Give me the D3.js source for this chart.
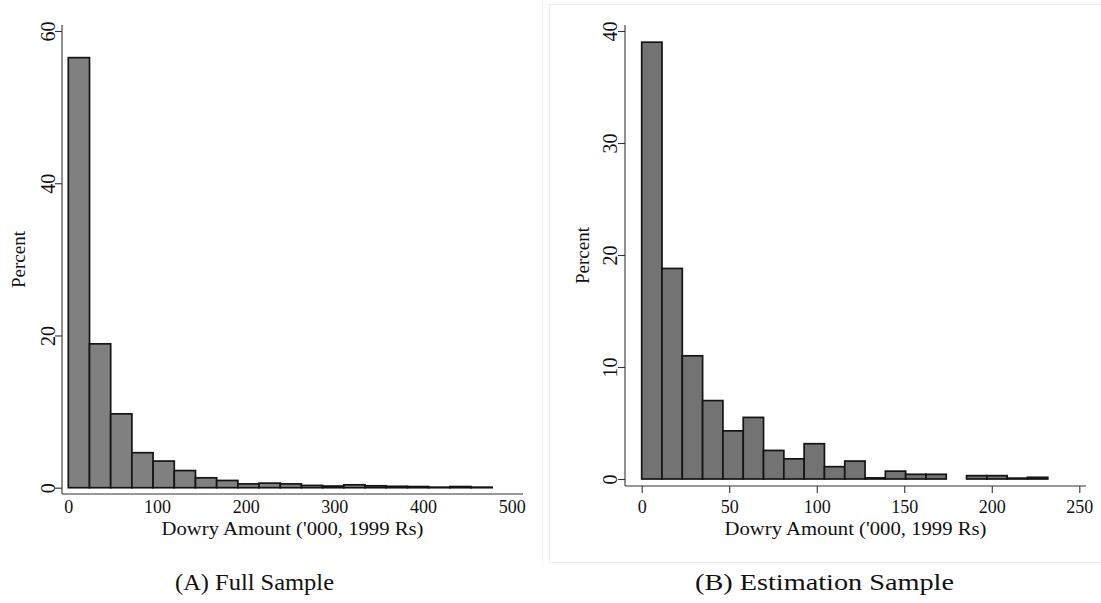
<!DOCTYPE html>
<html>
<head>
<meta charset="utf-8">
<script src="https://cdn.jsdelivr.net/npm/d3@7"></script>
<style>
  html, body { margin: 0; padding: 0; background: #fff; }
  svg { display: block; }
  text { font-family: "Liberation Serif", "DejaVu Serif", serif; fill: #111; }
</style>
</head>
<body>
<svg id="chart" width="1101" height="603"></svg>
<script>
// Histogram of dowry amounts ('000, 1999 Rs), percent of marriages per bin.
// Full sample: 20 equal bins starting at 0.
const fullBinWidth = 23.9;
const fullPercent = [56.5, 18.9, 9.7, 4.6, 3.5, 2.25, 1.3, 0.95, 0.5, 0.6,
                     0.5, 0.3, 0.22, 0.38, 0.25, 0.18, 0.15, 0.07, 0.15, 0.07];
const fullXTicks = [0, 100, 200, 300, 400, 500];
const fullYTicks = [0, 20, 40, 60];

// Estimation sample: 20 equal bins starting at 0.
const estBinWidth = 11.6;
const estPercent = [39.0, 18.8, 11.0, 7.0, 4.3, 5.5, 2.55, 1.8, 3.15, 1.1,
                    1.6, 0.1, 0.7, 0.42, 0.42, 0, 0.3, 0.3, 0.08, 0.15];
const estXTicks = [0, 50, 100, 150, 200, 250];
const estYTicks = [0, 10, 20, 30, 40];

const captions = ["(A) Full Sample", "(B) Estimation Sample"];
const xTitle = "Dowry Amount ('000, 1999 Rs)";
const yTitle = "Percent";

const svg = d3.select("#chart");

// faint frame around the second panel
svg.append("line").attr("x1", 542.5).attr("x2", 542.5).attr("y1", 0).attr("y2", 563)
  .attr("stroke", "#f6f6f6").attr("stroke-width", 1);
svg.append("rect").attr("x", 549.5).attr("y", 4.5).attr("width", 560).attr("height", 558)
  .attr("fill", "none").attr("stroke", "#eeeeee").attr("stroke-width", 1);

function panel(cfg) {
  const g = svg.append("g");
  const x = d3.scaleLinear().domain(cfg.xDomain).range(cfg.xRange);
  const y = d3.scaleLinear().domain(cfg.yDomain).range(cfg.yRange);
  const bins = cfg.values.map((v, i) => ({ x0: i * cfg.binWidth, x1: (i + 1) * cfg.binWidth, v }));

  // bars
  g.append("g").selectAll("rect")
    .data(bins.filter(d => d.v > 0))
    .join("rect")
    .attr("x", d => x(d.x0))
    .attr("width", d => x(d.x1) - x(d.x0))
    .attr("y", d => y(d.v))
    .attr("height", d => y(0) - y(d.v))
    .attr("fill", cfg.fill)
    .attr("stroke", "#141414")
    .attr("stroke-width", 1.7);

  // axis lines spanning the plot region
  g.append("line")
    .attr("x1", cfg.region.x0).attr("x2", cfg.region.x0)
    .attr("y1", cfg.region.y0).attr("y2", cfg.region.y1)
    .attr("stroke", "#333").attr("stroke-width", 1.1);
  g.append("line")
    .attr("x1", cfg.region.x0).attr("x2", cfg.region.x1)
    .attr("y1", cfg.region.y1).attr("y2", cfg.region.y1)
    .attr("stroke", "#333").attr("stroke-width", 1.1);

  // y axis ticks and rotated labels
  const yAxis = g.append("g")
    .attr("transform", `translate(${cfg.region.x0},0)`)
    .call(d3.axisLeft(y).tickValues(cfg.yTicks).tickSize(7).tickFormat(d3.format("d")));
  yAxis.select(".domain").remove();
  yAxis.selectAll(".tick line").attr("stroke", "#333").attr("stroke-width", 1.1);
  yAxis.selectAll(".tick text")
    .attr("x", null).attr("dy", null)
    .attr("transform", `translate(${-cfg.yLabelOffset},0) rotate(-90)`)
    .attr("text-anchor", "middle")
    .attr("dominant-baseline", "central")
    .style("font-size", "20px")
    .style("font-family", '"Liberation Serif", serif')
    .attr("fill", "#111");

  // x axis ticks and labels
  const xAxis = g.append("g")
    .attr("transform", `translate(0,${cfg.region.y1})`)
    .call(d3.axisBottom(x).tickValues(cfg.xTicks).tickSize(cfg.xTickSize).tickFormat(d3.format("d")));
  xAxis.select(".domain").remove();
  xAxis.selectAll(".tick line").attr("stroke", "#333").attr("stroke-width", 1.1);
  xAxis.selectAll(".tick text")
    .attr("y", cfg.xLabelY - cfg.region.y1).attr("dy", null)
    .attr("dominant-baseline", "central")
    .style("font-size", "18px")
    .style("font-family", '"Liberation Serif", serif')
    .attr("fill", "#111");

  // axis titles
  g.append("text")
    .attr("x", (cfg.region.x0 + cfg.region.x1) / 2)
    .attr("y", 535)
    .attr("text-anchor", "middle")
    .attr("textLength", 262)
    .attr("lengthAdjust", "spacingAndGlyphs")
    .style("font-size", "19px")
    .text(xTitle);
  g.append("text")
    .attr("transform", `translate(${cfg.yTitleX},${(cfg.region.y0 + cfg.region.y1) / 2}) rotate(-90)`)
    .attr("text-anchor", "middle")
    .attr("dominant-baseline", "central")
    .style("font-size", "19px")
    .text(yTitle);

  // panel caption
  g.append("text")
    .attr("x", cfg.captionX)
    .attr("y", 590)
    .attr("text-anchor", "middle")
    .attr("textLength", cfg.captionWidth)
    .attr("lengthAdjust", "spacingAndGlyphs")
    .style("font-size", "24px")
    .attr("fill", "#222")
    .text(cfg.caption);
}

panel({
  values: fullPercent, binWidth: fullBinWidth,
  xDomain: [0, 500], xRange: [68.3, 511.7],
  yDomain: [0, 60], yRange: [487.7, 31],
  region: { x0: 62, x1: 523, y0: 25, y1: 494 },
  xTicks: fullXTicks, yTicks: fullYTicks,
  xTickSize: 0, xLabelY: 507,
  yLabelOffset: 14, yTitleX: 18,
  fill: "#808080",
  caption: captions[0], captionX: 254.5, captionWidth: 159
});

panel({
  values: estPercent, binWidth: estBinWidth,
  xDomain: [0, 250], xRange: [641.7, 1079.3],
  yDomain: [0, 40], yRange: [479, 31],
  region: { x0: 625, x1: 1086, y0: 25, y1: 486 },
  xTicks: estXTicks, yTicks: estYTicks,
  xTickSize: 7, xLabelY: 507,
  yLabelOffset: 15, yTitleX: 582,
  fill: "#737373",
  caption: captions[1], captionX: 824.5, captionWidth: 259
});
</script>
</body>
</html>
